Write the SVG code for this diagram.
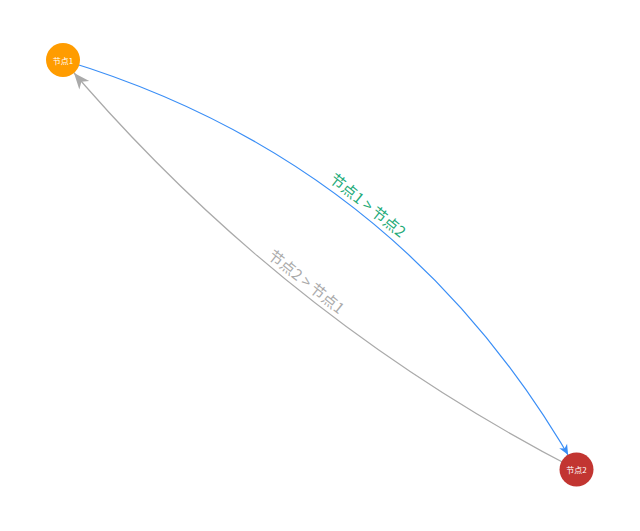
<svg xmlns="http://www.w3.org/2000/svg" width="640" height="531" viewBox="0 0 640 531">
<style>
.edge{fill:none;stroke-width:1.2}
.elabel{font-family:"Noto Sans CJK SC","Noto Sans",sans-serif;font-size:15px;text-anchor:middle;dominant-baseline:central}
.nlabel{font-family:"Noto Sans CJK SC","Noto Sans",sans-serif;font-size:8px;fill:#fff;text-anchor:middle;dominant-baseline:central}
</style>
<defs>
<path id="arrowBig" d="M0,0 L-16,-6.5 L-11.5,0 L-16,6.5 Z"/>
<path id="arrowSmall" d="M0,0 L-10,-4.5 L-7,0 L-10,4.5 Z"/>
</defs>
<rect width="640" height="531" fill="#fff"/>
<g id="edges">
<g id="edge-1-2">
<path class="edge" stroke="#3a8ef6" d="M63,60 Q401.7,162 576.5,469.5"/>
<use href="#arrowSmall" fill="#3a8ef6" transform="translate(568.1,454.7) rotate(60.4)"/>
<text class="elabel" fill="#22aa77" transform="translate(368.5,204.5) rotate(38.6)">节点1 &gt; 节点2</text>
</g>
<g id="edge-2-1">
<path class="edge" stroke="#aaaaaa" d="M576.5,469.5 Q278.8,316.1 63,60"/>
<use href="#arrowBig" fill="#aaaaaa" transform="translate(74,73) rotate(-130.1)"/>
<text class="elabel" fill="#aaaaaa" transform="translate(307,281) rotate(38.6)">节点2 &gt; 节点1</text>
</g>
</g>
<g id="node1">
<circle cx="63" cy="60" r="17" fill="#ff9c00"/>
<text class="nlabel" x="63" y="60">节点1</text>
</g>
<g id="node2">
<circle cx="576.5" cy="469.5" r="17" fill="#c23531"/>
<text class="nlabel" x="576.5" y="469.5">节点2</text>
</g>
</svg>
